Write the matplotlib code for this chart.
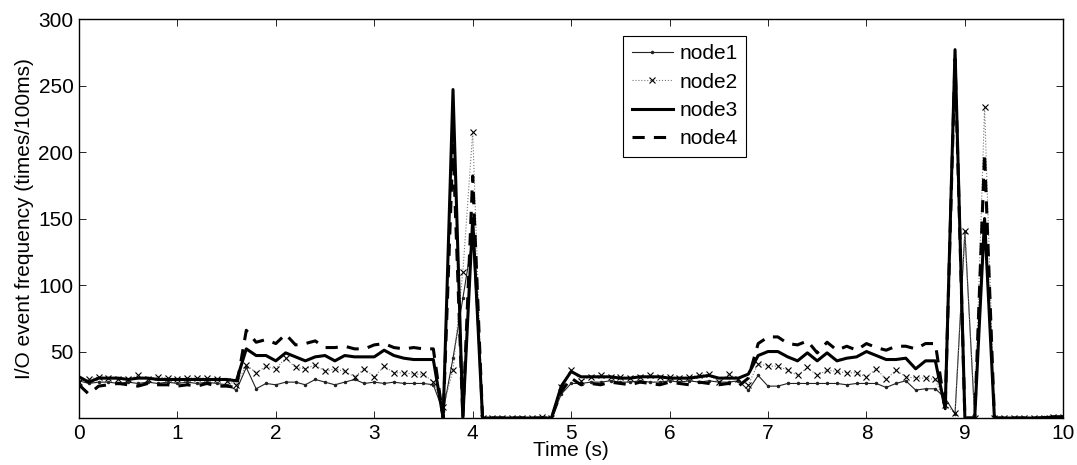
import numpy as np
import matplotlib
matplotlib.use("Agg")
import matplotlib.pyplot as plt

# time axis, one sample per 100 ms
t = np.round(np.arange(101) * 0.1, 1)

node1 = [28, 26, 27, 27, 26, 27, 26, 27, 26, 27, 26, 27, 26, 27, 26, 25, 21,
         38, 22, 26, 25, 27, 27, 25, 29, 27, 25, 27, 29, 26, 27, 26, 27, 26, 26, 26, 25,
         5, 45, 90, 136,
         0, 0, 0, 0, 0, 0, 0, 0,
         18, 26, 26, 27, 27, 28, 27, 27, 28, 27, 27, 28, 27, 28, 27, 28, 27, 27, 28, 21,
         32, 24, 24, 26, 26, 26, 26, 26, 26, 25, 26, 26, 26, 23, 26, 28, 21, 22, 22, 15,
         3, 140, 0, 145, 0,
         0, 0, 0, 0, 1, 1, 1]
node2 = [27, 29, 31, 30, 29, 29, 32, 29, 31, 30, 29, 30, 30, 30, 29, 28, 25,
         40, 34, 39, 37, 45, 38, 37, 40, 35, 37, 35, 31, 37, 31, 39, 34, 34, 33, 33, 27,
         8, 36, 110, 215,
         0, 0, 0, 0, 0, 0, 1, 0,
         23, 36, 28, 31, 32, 31, 31, 30, 31, 32, 31, 31, 30, 31, 32, 33, 27, 33, 29, 25,
         41, 39, 39, 36, 32, 38, 32, 36, 35, 34, 34, 31, 37, 29, 36, 31, 30, 30, 29, 10,
         4, 141, 0, 234, 0,
         0, 0, 0, 0, 0, 1, 1]
node3 = [31, 27, 30, 30, 30, 29, 30, 30, 29, 29, 29, 29, 29, 29, 29, 29, 28,
         52, 47, 47, 43, 49, 46, 43, 46, 47, 43, 47, 46, 46, 46, 51, 47, 45, 44, 44, 44,
         0, 247, 0, 150,
         0, 0, 0, 0, 0, 0, 0, 0,
         24, 35, 31, 31, 31, 31, 30, 30, 31, 31, 31, 30, 30, 30, 31, 32, 30, 30, 30, 33,
         47, 50, 50, 46, 43, 49, 43, 49, 43, 45, 46, 50, 47, 44, 44, 45, 37, 43, 43, 7,
         277, 0, 0, 150, 0,
         0, 0, 0, 0, 0, 1, 1]
node4 = [25, 18, 24, 25, 26, 25, 24, 26, 25, 25, 24, 25, 24, 26, 24, 24, 23,
         66, 57, 59, 56, 63, 55, 56, 58, 53, 53, 54, 52, 52, 55, 56, 53, 52, 53, 52, 52,
         0, 205, 0, 182,
         0, 0, 0, 0, 0, 0, 0, 0,
         20, 30, 25, 26, 25, 27, 26, 25, 27, 26, 25, 27, 26, 25, 27, 26, 25, 26, 24, 30,
         56, 61, 61, 56, 55, 58, 49, 57, 51, 54, 51, 56, 53, 51, 54, 54, 52, 56, 56, 7,
         270, 0, 0, 199, 0,
         0, 0, 0, 0, 0, 0, 0]

plt.rcParams["font.family"] = ["Liberation Sans", "DejaVu Sans"]
plt.rcParams["font.size"] = 15

fig = plt.figure(figsize=(10.77, 4.65), dpi=100)
ax = fig.add_axes([0.0733, 0.101, 0.914, 0.858])

ax.plot(t, node1, color="#222222", lw=0.8, marker=".", ms=3, label="node1")
ax.plot(t, node2, color="#777777", lw=0.8, ls=":", marker="x", ms=4.5,
        mec="black", mew=0.8, label="node2")
ax.plot(t, node3, color="black", lw=2.2, ls="-", label="node3")
ax.plot(t, node4, color="black", lw=2.2, ls=(0, (4, 3)), label="node4")

ax.set_xlim(0, 10)
ax.set_ylim(0, 300)
ax.set_xticks(np.arange(0, 11, 1))
ax.set_yticks([50, 100, 150, 200, 250, 300])
ax.tick_params(direction="in", top=True, right=True, length=5, width=0.6, pad=4)
for s in ax.spines.values():
    s.set_linewidth(1.0)

ax.set_xlabel("Time (s)", labelpad=-1)
ax.set_ylabel("I/O event frequency (times/100ms)", labelpad=3)

leg = ax.legend(loc="upper left", bbox_to_anchor=(0.553, 0.958), borderaxespad=0,
                frameon=True, fancybox=False, edgecolor="black", framealpha=1,
                handlelength=2.0, handletextpad=0.3, borderpad=0.4, labelspacing=0.45)
leg.get_frame().set_linewidth(0.8)

fig.savefig("out.png", dpi=100)
